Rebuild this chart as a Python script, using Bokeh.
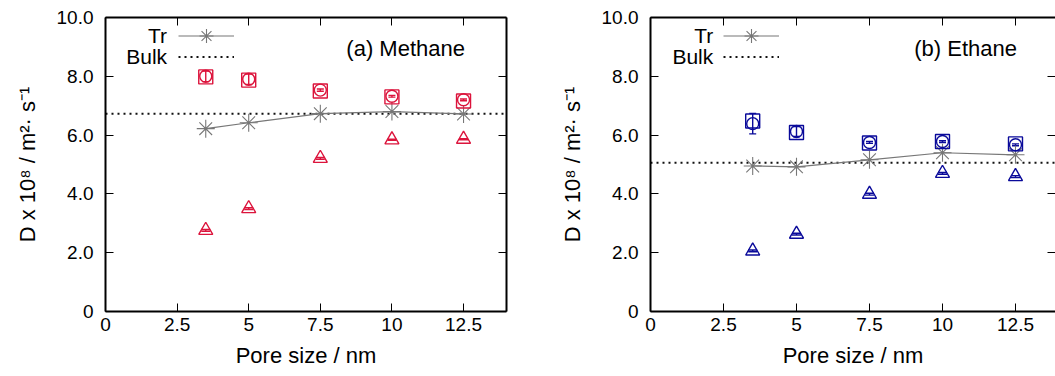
from bokeh.plotting import figure
from bokeh.layouts import row
from bokeh.models import (Range1d, FixedTicker, LinearAxis, Label, Legend,
                          LegendItem, Whisker, ColumnDataSource, TeeHead)
from bokeh.embed import file_html
from bokeh.resources import INLINE

# ---------------- data ----------------
pore = [3.5, 5, 7.5, 10, 12.5]
x_ticks = [0, 2.5, 5, 7.5, 10, 12.5]
x_tick_labels = ["0", "2.5", "5", "7.5", "10", "12.5"]
y_ticks = [0, 2, 4, 6, 8, 10]
y_tick_labels = ["0", "2.0", "4.0", "6.0", "8.0", "10.0"]

# (a) Methane
ch4_tr = [6.22, 6.42, 6.73, 6.80, 6.72]
ch4_bulk = 6.73
ch4_sq = [7.98, 7.87, 7.50, 7.30, 7.16]
ch4_ci = [8.00, 7.90, 7.53, 7.32, 7.20]
ch4_ci_err = [0.18, 0.18, 0.04, 0.03, 0.03]
ch4_tri = [2.76, 3.50, 5.21, 5.84, 5.86]
ch4_tri_err = [0.03, 0.03, 0.03, 0.02, 0.02]

# (b) Ethane
c2h6_tr = [4.95, 4.92, 5.16, 5.40, 5.33]
c2h6_bulk = 5.06
c2h6_sq = [6.48, 6.09, 5.73, 5.78, 5.70]
c2h6_ci = [6.39, 6.12, 5.75, 5.78, 5.67]
c2h6_ci_err = [0.35, 0.17, 0.03, 0.03, 0.03]
c2h6_tri = [2.06, 2.63, 3.99, 4.70, 4.59]
c2h6_tri_err = [0.03, 0.03, 0.03, 0.03, 0.03]

FONT = "Liberation Sans"
RED = "#dc143c"
BLUE = "#0a0a9a"
GRAY = "#777777"


def style_axis(ax, ticks, labels, show_labels=True, line=True):
    ax.ticker = FixedTicker(ticks=ticks)
    ax.minor_tick_line_color = None
    ax.major_tick_in = 8
    ax.major_tick_out = 0
    ax.major_tick_line_color = "black"
    ax.major_tick_line_width = 1
    ax.axis_line_color = "black" if line else None
    ax.axis_line_width = 2
    ax.major_label_text_font = FONT
    if show_labels:
        ax.major_label_overrides = {t: l for t, l in zip(ticks, labels)}
        ax.major_label_text_font_size = "19px"
        ax.major_label_text_color = "black"
    else:
        ax.major_label_text_font_size = "0px"
        ax.major_label_text_color = None
        ax.major_label_standoff = 0


def key_legend(renderers, loc_y):
    return Legend(items=[LegendItem(label=" ", renderers=renderers)],
                  location=(73, loc_y), glyph_width=56, glyph_height=35,
                  label_standoff=0, label_width=1, label_height=35,
                  spacing=0, padding=0, margin=0,
                  border_line_color=None, background_fill_alpha=0,
                  label_text_font_size="0px", label_text_color=None)


def make_panel(tr, bulk, sq, ci, ci_err, tri, tri_err, color, title,
               width, x_end, border_left, border_right, right_line):
    p = figure(width=width, height=376, output_backend="svg",
               toolbar_location=None,
               x_range=Range1d(0, x_end), y_range=Range1d(0, 10),
               min_border_left=border_left, min_border_right=border_right,
               min_border_top=17, min_border_bottom=65,
               x_axis_location=None, y_axis_location=None)
    p.outline_line_color = None
    p.grid.visible = False
    p.background_fill_color = "white"
    p.border_fill_color = "white"

    xb = LinearAxis(axis_label="Pore size / nm")
    style_axis(xb, x_ticks, x_tick_labels)
    xb.major_label_standoff = 6
    xb.axis_label_standoff = 9
    p.add_layout(xb, "below")

    yl = LinearAxis(axis_label="D x 10\u2078 / m\u00b2\u00b7 s\u207b\u00b9")
    style_axis(yl, y_ticks, y_tick_labels)
    yl.major_label_standoff = 12
    yl.axis_label_standoff = 14
    p.add_layout(yl, "left")

    xt = LinearAxis()
    style_axis(xt, x_ticks, x_tick_labels, show_labels=False)
    p.add_layout(xt, "above")

    yr = LinearAxis()
    style_axis(yr, y_ticks, y_tick_labels, show_labels=False, line=right_line)
    p.add_layout(yr, "right")

    for ax in (xb, yl):
        ax.axis_label_text_font = FONT
        ax.axis_label_text_font_size = "22px"
        ax.axis_label_text_font_style = "normal"
        ax.axis_label_text_color = "black"

    # bulk reference line across the frame
    bulk_r = p.line([0, x_end], [bulk, bulk], line_color="#111111",
                    line_width=2, line_dash="2 4")

    # transport (Tr) line + asterisks
    tr_line = p.line(pore, tr, line_color=GRAY, line_width=1.2)
    tr_pts = p.scatter(pore, tr, marker="asterisk", size=18,
                       line_color=GRAY, line_width=1.1)

    # squares
    p.scatter(pore, sq, marker="square", size=14, fill_color=None,
              line_color=color, line_width=1.4)
    # circles with error bars
    p.scatter(pore, ci, marker="circle", size=12, fill_color=None,
              line_color=color, line_width=1.4)
    src_ci = ColumnDataSource(dict(
        x=pore,
        lo=[v - e for v, e in zip(ci, ci_err)],
        hi=[v + e for v, e in zip(ci, ci_err)]))
    p.add_layout(Whisker(source=src_ci, base="x", lower="lo", upper="hi",
                         line_color=color, line_width=1.4,
                         upper_head=TeeHead(size=7, line_color=color, line_width=1.4),
                         lower_head=TeeHead(size=7, line_color=color, line_width=1.4)))
    # triangles with error bars
    p.scatter(pore, tri, marker="triangle", size=14, fill_color=None,
              line_color=color, line_width=1.4)
    src_tri = ColumnDataSource(dict(
        x=pore,
        lo=[v - e for v, e in zip(tri, tri_err)],
        hi=[v + e for v, e in zip(tri, tri_err)]))
    p.add_layout(Whisker(source=src_tri, base="x", lower="lo", upper="hi",
                         line_color=color, line_width=1.4,
                         upper_head=TeeHead(size=9, line_color=color, line_width=1.4),
                         lower_head=TeeHead(size=9, line_color=color, line_width=1.4)))

    # key: samples only (labels written to their left, gnuplot style)
    p.add_layout(key_legend([tr_line, tr_pts], 258))
    p.add_layout(key_legend([bulk_r], 237))

    for txt, yy in (("Tr", 9.40), ("Bulk", 8.68)):
        p.add_layout(Label(x=2.15, y=yy, text=txt, text_align="right",
                           text_baseline="middle", text_font=FONT,
                           text_font_size="21px", text_color="black"))
    p.add_layout(Label(x=12.55, y=8.95, text=title, text_align="right",
                       text_baseline="middle", text_font=FONT,
                       text_font_size="22px", text_color="black"))
    return p


p1 = make_panel(ch4_tr, ch4_bulk, ch4_sq, ch4_ci, ch4_ci_err, ch4_tri,
                ch4_tri_err, RED, "(a) Methane",
                width=530, x_end=14, border_left=105, border_right=24,
                right_line=True)
p2 = make_panel(c2h6_tr, c2h6_bulk, c2h6_sq, c2h6_ci, c2h6_ci_err, c2h6_tri,
                c2h6_tri_err, BLUE, "(b) Ethane",
                width=525, x_end=13.87, border_left=120, border_right=0,
                right_line=False)

layout = row(p1, p2)
open("out.html", "w").write(file_html(layout, INLINE))
